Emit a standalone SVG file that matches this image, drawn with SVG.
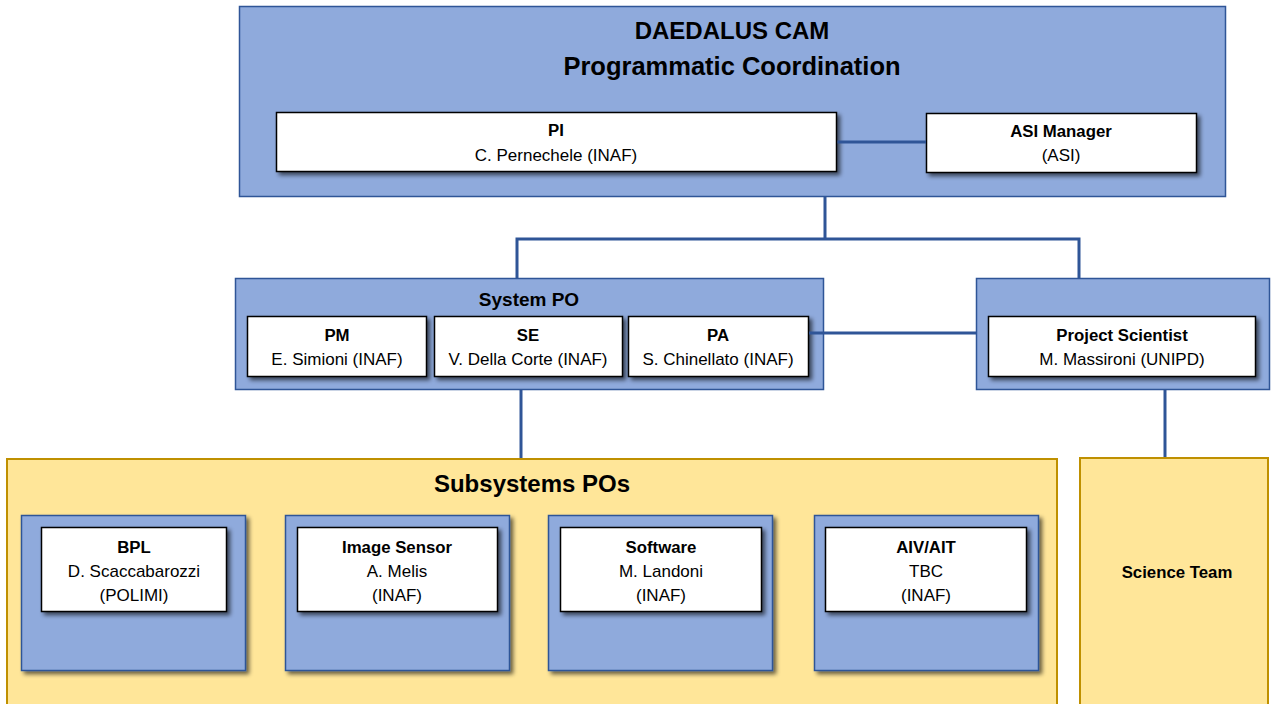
<svg xmlns="http://www.w3.org/2000/svg" width="1271" height="704" viewBox="0 0 1271 704">
<defs>
<filter id="sh" x="-10%" y="-10%" width="130%" height="140%">
<feGaussianBlur in="SourceAlpha" stdDeviation="2"/>
<feOffset dx="3" dy="3" result="o"/>
<feComponentTransfer><feFuncA type="linear" slope="0.6"/></feComponentTransfer>
<feMerge><feMergeNode/><feMergeNode in="SourceGraphic"/></feMerge>
</filter>
<style>
.blue{fill:#8FAADC;stroke:#2F5597;stroke-width:1.5}
.yel{fill:#FFE699;stroke:#BF9000;stroke-width:2}
.wht{fill:#fff;stroke:#000;stroke-width:1.5}
.con{fill:none;stroke:#2F5597;stroke-width:3}
text{font-family:"Liberation Sans",Arial,sans-serif;fill:#000;text-anchor:middle}
.t1{font-size:24px;font-weight:bold}
.t1b{font-size:25.5px;font-weight:bold}
.t2{font-size:19px;font-weight:bold}
.b{font-size:16.8px;font-weight:bold}
.r{font-size:17px}
</style>
</defs>
<g id="coordination">
<rect class="blue" x="239.5" y="6.5" width="986" height="190"/>
<text class="t1" x="732" y="39">DAEDALUS CAM</text>
<text class="t1b" x="732" y="75">Programmatic Coordination</text>
</g>
<g id="pi">
<rect class="wht" filter="url(#sh)" x="276.5" y="112.5" width="560" height="59"/>
<text class="b" x="556" y="136">PI</text>
<text class="r" x="556" y="161">C. Pernechele (INAF)</text>
</g>
<g id="asi">
<rect class="wht" filter="url(#sh)" x="926.5" y="113.5" width="270" height="59"/>
<text class="b" x="1061" y="137">ASI Manager</text>
<text class="r" x="1061" y="161">(ASI)</text>
</g>
<g id="systempo">
<rect class="blue" x="235.5" y="278.5" width="588" height="111"/>
<text class="t2" x="529" y="306">System PO</text>
</g>
<g id="pm">
<rect class="wht" filter="url(#sh)" x="247.5" y="316.5" width="179" height="60"/>
<text class="b" x="337" y="341">PM</text>
<text class="r" x="337" y="365">E. Simioni (INAF)</text>
</g>
<g id="se">
<rect class="wht" filter="url(#sh)" x="434.5" y="316.5" width="188" height="60"/>
<text class="b" x="528" y="341">SE</text>
<text class="r" x="528" y="365">V. Della Corte (INAF)</text>
</g>
<g id="pa">
<rect class="wht" filter="url(#sh)" x="628.5" y="316.5" width="180" height="60"/>
<text class="b" x="718" y="341">PA</text>
<text class="r" x="718" y="365">S. Chinellato (INAF)</text>
</g>
<g id="projectscientist">
<rect class="blue" x="976.5" y="278.5" width="293" height="111"/>
<rect class="wht" filter="url(#sh)" x="988.5" y="316.5" width="267" height="60"/>
<text class="b" x="1122" y="341">Project Scientist</text>
<text class="r" x="1122" y="365">M. Massironi (UNIPD)</text>
</g>
<g id="subsystems">
<rect class="yel" x="7" y="459" width="1050" height="260"/>
<text class="t1" x="532" y="492">Subsystems POs</text>
</g>
<g id="bpl">
<rect class="blue" filter="url(#sh)" x="21.5" y="515.5" width="224" height="155"/>
<rect class="wht" filter="url(#sh)" x="41.5" y="527.5" width="185" height="84"/>
<text class="b" x="134" y="553">BPL</text>
<text class="r" x="134" y="577">D. Scaccabarozzi</text>
<text class="r" x="134" y="601">(POLIMI)</text>
</g>
<g id="imagesensor">
<rect class="blue" filter="url(#sh)" x="285.5" y="515.5" width="224" height="155"/>
<rect class="wht" filter="url(#sh)" x="297.5" y="527.5" width="200" height="84"/>
<text class="b" x="397" y="553">Image Sensor</text>
<text class="r" x="397" y="577">A. Melis</text>
<text class="r" x="397" y="601">(INAF)</text>
</g>
<g id="software">
<rect class="blue" filter="url(#sh)" x="548.5" y="515.5" width="224" height="155"/>
<rect class="wht" filter="url(#sh)" x="560.5" y="527.5" width="201" height="84"/>
<text class="b" x="661" y="553">Software</text>
<text class="r" x="661" y="577">M. Landoni</text>
<text class="r" x="661" y="601">(INAF)</text>
</g>
<g id="aiv">
<rect class="blue" filter="url(#sh)" x="814.5" y="515.5" width="224" height="155"/>
<rect class="wht" filter="url(#sh)" x="825.5" y="527.5" width="201" height="84"/>
<text class="b" x="926" y="553">AIV/AIT</text>
<text class="r" x="926" y="577">TBC</text>
<text class="r" x="926" y="601">(INAF)</text>
</g>
<g id="scienceteam">
<rect class="yel" x="1080" y="458" width="188" height="260"/>
<text class="b" x="1177" y="578">Science Team</text>
</g>
<g id="connectors">
<path class="con" d="M837.5 142H926"/>
<path class="con" d="M825 197V239M517 278V239H1079V278"/>
<path class="con" d="M809 333H976"/>
<path class="con" d="M521 390V458"/>
<path class="con" d="M1165 390V457"/>
</g>
</svg>
